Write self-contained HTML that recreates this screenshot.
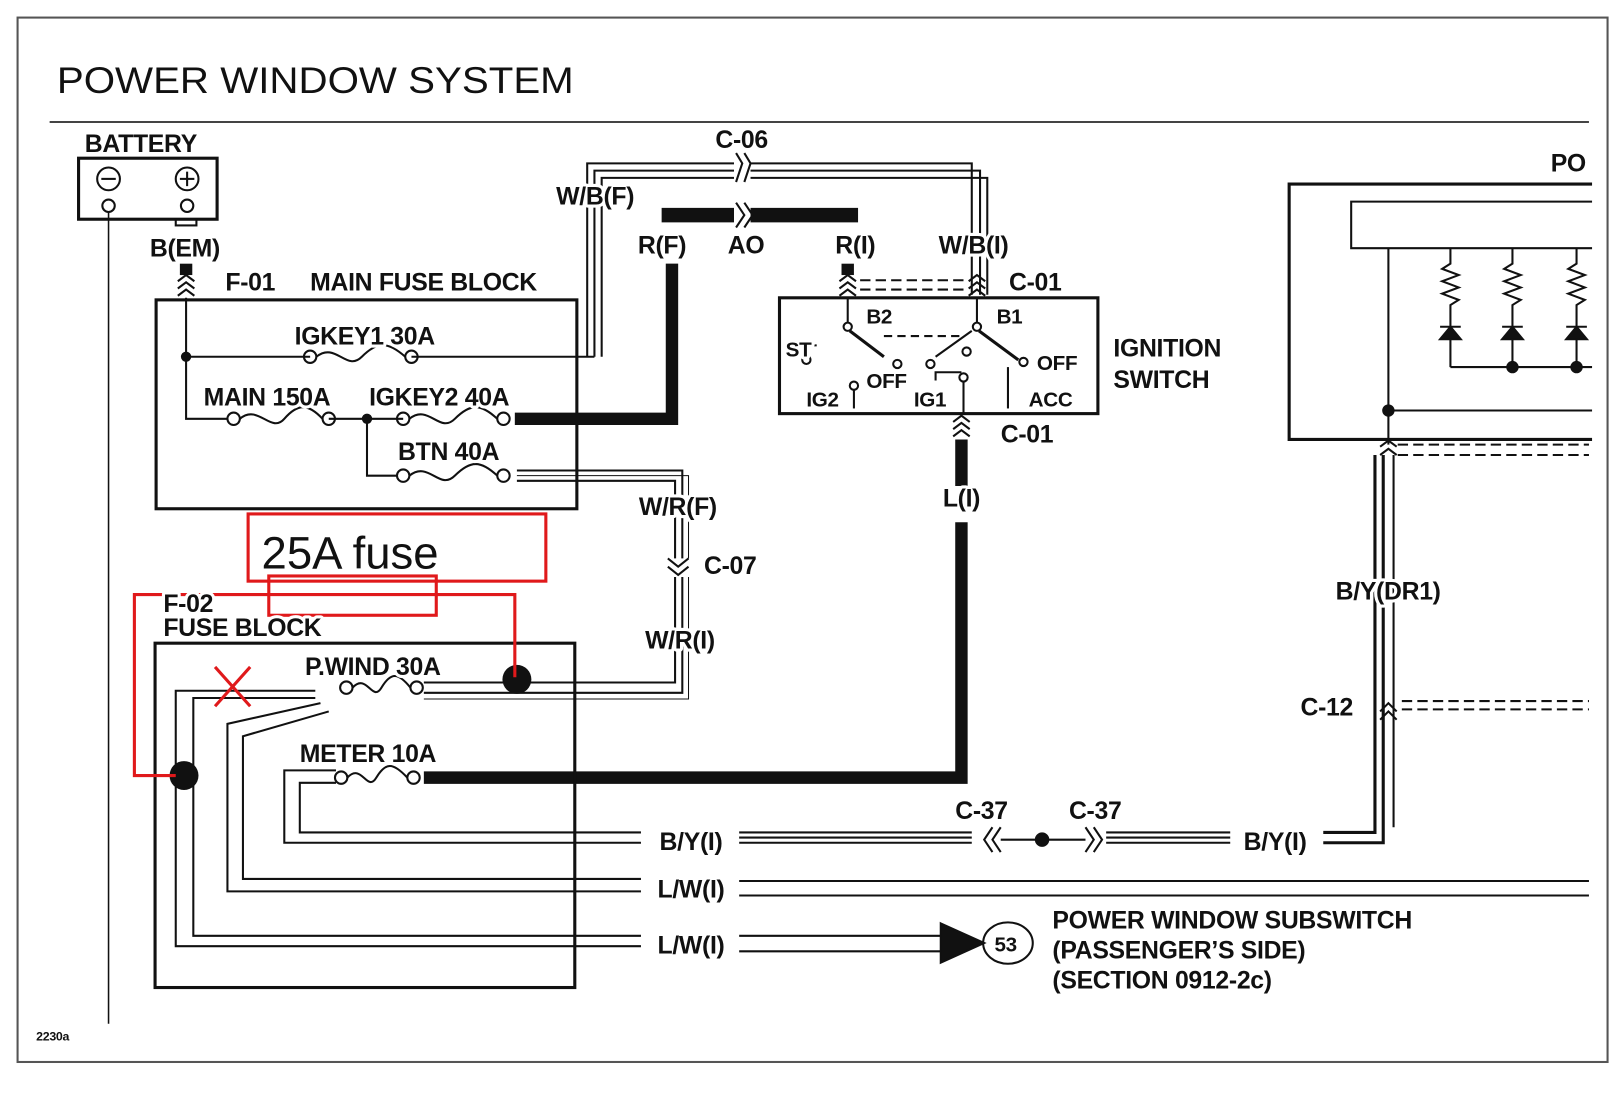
<!DOCTYPE html>
<html><head><meta charset="utf-8"><style>
html,body{margin:0;padding:0;background:#fff;}
svg{display:block;}
text{font-family:"Liberation Sans",Arial,sans-serif;fill:#111;font-weight:bold;stroke:#fff;stroke-width:6px;paint-order:stroke;stroke-linejoin:round;}
</style></head><body>
<svg width="1621" height="1093" viewBox="0 0 1568 1057" preserveAspectRatio="none" xmlns="http://www.w3.org/2000/svg">
<rect x="0" y="0" width="1568" height="1057" fill="#fff"/>
<rect x="17" y="17" width="1538" height="1010" fill="none" stroke="#555" stroke-width="2"/>
<text x="55" y="90" font-size="36" textLength="500" lengthAdjust="spacingAndGlyphs" style="font-weight:normal;stroke-width:0">POWER WINDOW SYSTEM</text>
<line x1="48" y1="118" x2="1537" y2="118" stroke="#444" stroke-width="2"/>

<g stroke="#111" fill="none" stroke-width="2">
<rect x="76" y="153" width="134" height="59" stroke-width="3"/>
<circle cx="105" cy="173" r="11"/><line x1="98" y1="173" x2="112" y2="173"/>
<circle cx="181" cy="173" r="11"/><line x1="174" y1="173" x2="188" y2="173"/><line x1="181" y1="166" x2="181" y2="180"/>
<circle cx="105" cy="199" r="6"/><circle cx="181" cy="199" r="6"/>
<rect x="170" y="212" width="20" height="6"/>
<line x1="105" y1="205" x2="105" y2="990" stroke-width="1.5"/>
<line x1="180" y1="255" x2="180" y2="266" stroke-width="12"/>
<path d="M172 272 L180 266 L188 272 M172 279 L180 273 L188 279 M172 286 L180 280 L188 286"/>

<rect x="151" y="290" width="407" height="202" stroke-width="3"/>
<path d="M180 288 V405 H220"/>
<path d="M180 345 H300"/>
<path d="M398 345 H575"/>
<g>
<circle cx="300" cy="345" r="6"/><circle cx="398" cy="345" r="6"/><path d="M306 345 C325 330,335 360,350 345 S375 330,392 345"/>
<circle cx="226" cy="405" r="6"/><circle cx="318" cy="405" r="6"/><path d="M232 405 C250 390,262 420,275 405 S298 390,312 405"/>
<circle cx="390" cy="405" r="6"/><circle cx="487" cy="405" r="6"/><path d="M396 405 C415 390,425 420,440 405 S465 390,481 405"/>
<circle cx="390" cy="460" r="6"/><circle cx="487" cy="460" r="6"/><path d="M396 460 C415 445,425 475,440 460 S465 445,481 460"/>
<circle cx="335" cy="665" r="6"/><circle cx="403" cy="665" r="6"/><path d="M341 665 C355 650,360 680,369 665 S385 650,397 665"/>
<circle cx="330" cy="752" r="6"/><circle cx="400" cy="752" r="6"/><path d="M336 752 C350 737,355 767,364 752 S380 737,394 752"/>
</g>
<path d="M318 405 H390 M355 405 V460 H384"/>
<path d="M568 345 V158 H940 V285"/>
<path d="M575 345 V165 H948 V285"/>
<path d="M582 345 V172 H955 V285"/>
<rect x="710" y="150" width="16" height="26" fill="#fff" stroke="none"/>
<path d="M712 148 L718 158 L712 176 M720 148 L726 158 L720 176"/>
<path d="M498 405 H650 V255" stroke-width="12"/>
<line x1="640" y1="208" x2="830" y2="208" stroke-width="14"/>
<rect x="710" y="198" width="16" height="22" fill="#fff" stroke="none"/>
<path d="M712 196 L720 208 L712 220 M720 196 L728 208 L720 220"/>
<line x1="820" y1="255" x2="820" y2="266" stroke-width="12"/>
<path d="M812 272 L820 266 L828 272 M812 279 L820 273 L828 279 M812 286 L820 280 L828 286"/>
<path d="M937 272 L945 266 L953 272 M937 279 L945 273 L953 279 M937 286 L945 280 L953 286"/>
<path d="M832 271 H935 M832 280 H935" stroke-dasharray="10 5"/>
<path d="M500 455 H660 V670 H410"/>
<path d="M500 465 H653 V660 H410"/>
<path d="M500 460 H666 V676 H410" stroke-width="1"/>
<rect x="645" y="540" width="22" height="18" fill="#fff" stroke="none"/>
<path d="M646 540 L656 548 L666 540 M646 548 L656 556 L666 548"/>

<rect x="754" y="288" width="308" height="112" stroke-width="3"/>
<path d="M820 288 V312 M945 288 V312"/>
<circle cx="820" cy="316" r="4"/><circle cx="945" cy="316" r="4"/>
<path d="M822 320 L855 345" stroke-width="3"/><path d="M947 320 L985 348" stroke-width="3"/>
<path d="M855 325 H930" stroke-dasharray="8 5"/>
<circle cx="868" cy="352" r="4"/><circle cx="990" cy="350" r="4"/>
<circle cx="900" cy="352" r="4"/><circle cx="935" cy="340" r="4"/>
<path d="M905 345 L940 320 M930 360 H905 V368"/>
<circle cx="780" cy="348" r="4"/><path d="M780 344 V334 M770 334 H790"/>
<circle cx="826" cy="373" r="4"/><path d="M826 377 V395"/>
<circle cx="932" cy="365" r="4"/><path d="M932 369 V400"/>
<path d="M975 355 V395"/>
<path d="M922 408 L930 402 L938 408 M922 415 L930 409 L938 415 M922 422 L930 416 L938 422"/>
<path d="M930 425 V470 M930 505 V752 H410" stroke-width="12"/>

<rect x="150" y="622" width="406" height="333" stroke-width="3"/>
<path d="M305 668 H170 V915 H620"/>
<path d="M305 675 H187 V905 H620"/>
<path d="M310 680 L220 700 V862 H620"/>
<path d="M318 688 L235 712 V850 H620"/>
<path d="M325 745 H275 V815 H620"/>
<path d="M325 757 H290 V805 H620"/>
<path d="M715 805 H940 M715 815 H940 M715 810 H940"/>
<path d="M960 800 L952 812 L960 824 M968 800 L960 812 L968 824"/>
<path d="M968 812 H1050"/>
<path d="M1050 800 L1058 812 L1050 824 M1058 800 L1066 812 L1058 824"/>
<path d="M1070 805 H1190 M1070 815 H1190 M1070 810 H1190"/>
<path d="M1280 805 H1330 V440 M1280 815 H1338 V440" stroke-width="3"/>
<path d="M1348 800 V440"/>
<path d="M715 852 H1537 M715 866 H1537"/>
<path d="M715 905 H910 M715 920 H910"/>
<path d="M910 893 L952 912 L910 931 Z" fill="#111"/>
<ellipse cx="975" cy="912" rx="24" ry="20"/>
<circle cx="1008" cy="812" r="6" fill="#111"/>

<path d="M1540 178 H1247 V425 H1540" stroke-width="3"/>
<path d="M1540 195 H1307 V240 H1540"/>
<path d="M1343 240 V430 M1343 397 H1540 M1403 355 H1540"/>
<circle cx="1343" cy="397" r="5" fill="#111"/>
<g>
<path d="M1403 240 V255 l-8 5 16 6 -16 6 16 6 -16 6 16 6 -8 5 V355"/>
<path d="M1393 328 H1413 L1403 316 Z" fill="#111"/><line x1="1393" y1="316" x2="1413" y2="316"/>
<path d="M1463 240 V255 l-8 5 16 6 -16 6 16 6 -16 6 16 6 -8 5 V355"/>
<path d="M1453 328 H1473 L1463 316 Z" fill="#111"/><line x1="1453" y1="316" x2="1473" y2="316"/>
<path d="M1525 240 V255 l-8 5 16 6 -16 6 16 6 -16 6 16 6 -8 5 V355"/>
<path d="M1515 328 H1535 L1525 316 Z" fill="#111"/><line x1="1515" y1="316" x2="1535" y2="316"/>
<circle cx="1463" cy="355" r="5" fill="#111"/><circle cx="1525" cy="355" r="5" fill="#111"/>
</g>
<path d="M1335 432 L1343 426 L1351 432 M1335 440 L1343 434 L1351 440"/>
<path d="M1352 430 H1537 M1352 440 H1537" stroke-dasharray="10 5"/>
<path d="M1335 688 L1343 680 L1351 688 M1335 696 L1343 688 L1351 696"/>
<path d="M1356 678 H1537 M1356 686 H1537" stroke-dasharray="10 5"/>
</g>

<circle cx="180" cy="345" r="5" fill="#111"/>
<circle cx="355" cy="405" r="5" fill="#111"/>
<circle cx="500" cy="657" r="14" fill="#111"/>
<circle cx="178" cy="750" r="14" fill="#111"/>

<g stroke="#e0191b" fill="none" stroke-width="3">
<rect x="240" y="497" width="288" height="65"/>
<rect x="260" y="557" width="162" height="38"/>
<path d="M498 655 V575 H130 V750 H170"/>
<path d="M208 645 L242 683 M242 645 L208 683"/>
</g>
<text x="253" y="550" font-size="44" style="font-weight:normal;stroke-width:0">25A fuse</text>

<g font-size="24" letter-spacing="-0.3">
<text x="82" y="147">BATTERY</text>
<text x="145" y="248">B(EM)</text>
<text x="218" y="281">F-01</text>
<text x="300" y="281">MAIN FUSE BLOCK</text>
<text x="285" y="333">IGKEY1  30A</text>
<text x="197" y="392">MAIN  150A</text>
<text x="357" y="392">IGKEY2  40A</text>
<text x="385" y="445">BTN  40A</text>
<text x="692" y="143">C-06</text>
<text x="538" y="198">W/B(F)</text>
<text x="617" y="245">R(F)</text>
<text x="704" y="245">AO</text>
<text x="808" y="245">R(I)</text>
<text x="908" y="245">W/B(I)</text>
<text x="976" y="281">C-01</text>
<text x="838" y="313" font-size="20">B2</text>
<text x="964" y="313" font-size="20">B1</text>
<text x="760" y="345" font-size="20">ST</text>
<text x="838" y="375" font-size="20">OFF</text>
<text x="1003" y="358" font-size="20">OFF</text>
<text x="780" y="393" font-size="20">IG2</text>
<text x="884" y="393" font-size="20">IG1</text>
<text x="995" y="393" font-size="20">ACC</text>
<text x="1077" y="345">IGNITION</text>
<text x="1077" y="375">SWITCH</text>
<text x="968" y="428">C-01</text>
<text x="912" y="490">L(I)</text>
<text x="618" y="498">W/R(F)</text>
<text x="681" y="555">C-07</text>
<text x="624" y="627">W/R(I)</text>
<text x="158" y="592">F-02</text>
<text x="158" y="615">FUSE BLOCK</text>
<text x="295" y="653">P.WIND  30A</text>
<text x="290" y="737">METER  10A</text>
<text x="638" y="822">B/Y(I)</text>
<text x="924" y="792">C-37</text>
<text x="1034" y="792">C-37</text>
<text x="1203" y="822">B/Y(I)</text>
<text x="636" y="868">L/W(I)</text>
<text x="636" y="922">L/W(I)</text>
<text x="962" y="920" font-size="20">53</text>
<text x="1018" y="898">POWER WINDOW SUBSWITCH</text>
<text x="1018" y="927">(PASSENGER’S SIDE)</text>
<text x="1018" y="956">(SECTION 0912-2c)</text>
<text x="1292" y="580">B/Y(DR1)</text>
<text x="1258" y="692">C-12</text>
<text x="1500" y="166">PO</text>
<text x="35" y="1006" font-size="12">2230a</text>
</g>
</svg>
</body></html>
